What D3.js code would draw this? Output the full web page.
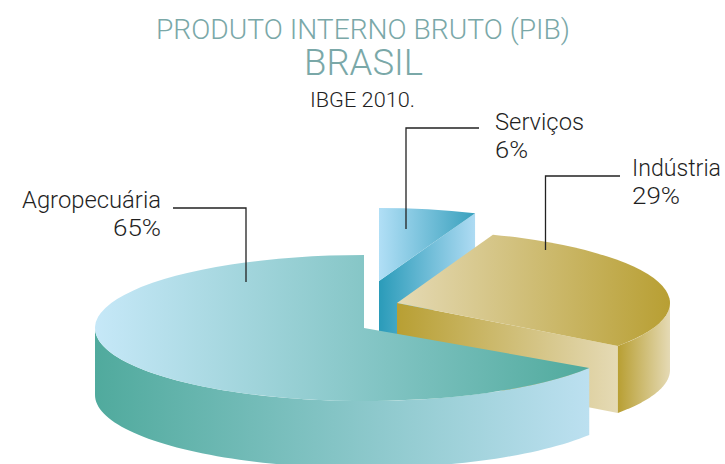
<!DOCTYPE html>
<html>
<head>
<meta charset="utf-8">
<script src="https://cdn.jsdelivr.net/npm/d3@7"></script>
<style>
  html, body { margin: 0; background: #fff; }
  svg { display: block; }
  text { font-family: Roboto, "Liberation Sans", sans-serif; font-weight: 300; }
</style>
</head>
<body>
<svg id="chart" width="725" height="464"></svg>
<script>
  // Data
  const categories = ['Serviços', 'Indústria', 'Agropecuária'];
  const values     = [6, 29, 65];
  const source     = 'IBGE 2010.';

  const titleLine1 = 'PRODUTO INTERNO BRUTO (PIB)';
  const titleLine2 = 'BRASIL';

  // Layout of the exploded slices
  const ry    = 73;
  const depth = 67;
  const slices = [
    { cx: 379, cy: 281, rx: 261, tweak: 0 },
    { cx: 397, cy: 303, rx: 273, tweak: -0.018 },
    { cx: 364, cy: 328, rx: 269, tweak: -0.05 }
  ];

  const labelPos = [
    { x: 495, y: 130, anchor: 'start', width: 89,  pctWidth: 33, leader: [[479, 128], [406, 128], [406, 229]] },
    { x: 632, y: 176, anchor: 'start', width: 89,  pctWidth: 48, leader: [[620, 176], [545.5, 176], [545.5, 250]] },
    { x: 161, y: 208, anchor: 'end',   width: 139, pctWidth: 48, leader: [[173, 208], [246, 208], [246, 282]] }
  ];

  // Gradients, [left, right]
  const topColors  = [['#b1dff6', '#38a0bd'], ['#e5dab5', '#b89f33'], ['#c6e8f8', '#50aa9d']];
  const faceColors = [['#2a9bb9', '#aedbf3'], ['#b89f33', '#e5dab5'], null];
  const wallColors = [null, ['#b89f33', '#e5dab5'], ['#50aa9d', '#bce0f0']];

  const svg  = d3.select('#chart');
  const defs = svg.append('defs');

  function gradient(id, [c0, c1]) {
    const g = defs.append('linearGradient').attr('id', id)
      .attr('x1', 0).attr('x2', 1).attr('y1', 0).attr('y2', 0);
    g.append('stop').attr('offset', 0).attr('stop-color', c0);
    g.append('stop').attr('offset', 1).attr('stop-color', c1);
    return `url(#${id})`;
  }

  // Pie generators
  const pieGen = d3.pie().sort(null).startAngle(0).endAngle(2 * Math.PI);
  const arcs   = pieGen(values);
  const arcGen = d3.arc().innerRadius(0);
  const line   = d3.line();

  const ellipsePt = (s, a) =>
    [s.cx + s.rx * Math.sin(a), s.cy - ry * Math.cos(a)];

  // Outer wall between two angles, both below the horizon
  function wallPath(s, a0, a1) {
    const n = 80;
    const top = d3.range(n + 1).map(i => ellipsePt(s, a0 + (a1 - a0) * i / n));
    const bottom = top.map(([x, y]) => [x, y + depth]).reverse();
    return line(top.concat(bottom)) + 'Z';
  }

  // Back to front: services, industry, agriculture
  arcs.forEach((d, i) => {
    const s = slices[i];
    const start = d.startAngle + s.tweak;
    const g = svg.append('g');

    // Visible cut face, on the clockwise end of the two smaller slices
    if (faceColors[i]) {
      const [ex, ey] = ellipsePt(s, d.endAngle);
      g.append('path')
        .attr('d', line([[s.cx, s.cy], [ex, ey], [ex, ey + depth], [s.cx, s.cy + depth]]) + 'Z')
        .attr('fill', gradient(`face${i}`, faceColors[i]));
    }

    // Outer wall: only the part facing the viewer
    if (i === 1) {
      g.append('path')
        .attr('d', wallPath(s, Math.PI / 2, d.endAngle))
        .attr('fill', gradient(`wall${i}`, wallColors[i]));
    }
    if (i === 2) {
      g.append('path')
        .attr('d', wallPath(s, start, 3 * Math.PI / 2))
        .attr('fill', gradient(`wall${i}`, wallColors[i]));
    }

    // Top face
    arcGen.outerRadius(s.rx);
    g.append('path')
      .attr('transform', `translate(${s.cx},${s.cy}) scale(1,${ry / s.rx})`)
      .attr('d', arcGen({ startAngle: start, endAngle: d.endAngle }))
      .attr('fill', gradient(`top${i}`, topColors[i]));
  });

  // Leaders
  labelPos.forEach(p => {
    svg.append('path')
      .attr('d', line(p.leader))
      .attr('fill', 'none')
      .attr('stroke', '#222')
      .attr('stroke-width', 1.3);
  });

  // Labels
  categories.forEach((c, i) => {
    const p = labelPos[i];
    svg.append('text')
      .attr('x', p.x).attr('y', p.y)
      .attr('text-anchor', p.anchor)
      .attr('font-size', 24)
      .attr('fill', '#1f1f1f')
      .attr('textLength', p.width)
      .attr('lengthAdjust', 'spacingAndGlyphs')
      .text(c);
    svg.append('text')
      .attr('x', p.x).attr('y', p.y + 28)
      .attr('text-anchor', p.anchor)
      .attr('font-size', 24)
      .attr('fill', '#1f1f1f')
      .attr('textLength', p.pctWidth)
      .attr('lengthAdjust', 'spacingAndGlyphs')
      .text(`${values[i]}%`);
  });

  // Titles
  svg.append('text').attr('x', 363).attr('y', 39)
    .attr('text-anchor', 'middle').attr('font-size', 28).attr('fill', '#7aa8a8')
    .attr('textLength', 414).attr('lengthAdjust', 'spacingAndGlyphs')
    .text(titleLine1);
  svg.append('text').attr('x', 363.5).attr('y', 75)
    .attr('text-anchor', 'middle').attr('font-size', 36).attr('fill', '#7aa8a8')
    .attr('textLength', 119).attr('lengthAdjust', 'spacingAndGlyphs')
    .text(titleLine2);
  svg.append('text').attr('x', 362.5).attr('y', 107)
    .attr('text-anchor', 'middle').attr('font-size', 21).attr('fill', '#1f1f1f')
    .attr('textLength', 105).attr('lengthAdjust', 'spacingAndGlyphs')
    .text(source);
</script>
</body>
</html>
